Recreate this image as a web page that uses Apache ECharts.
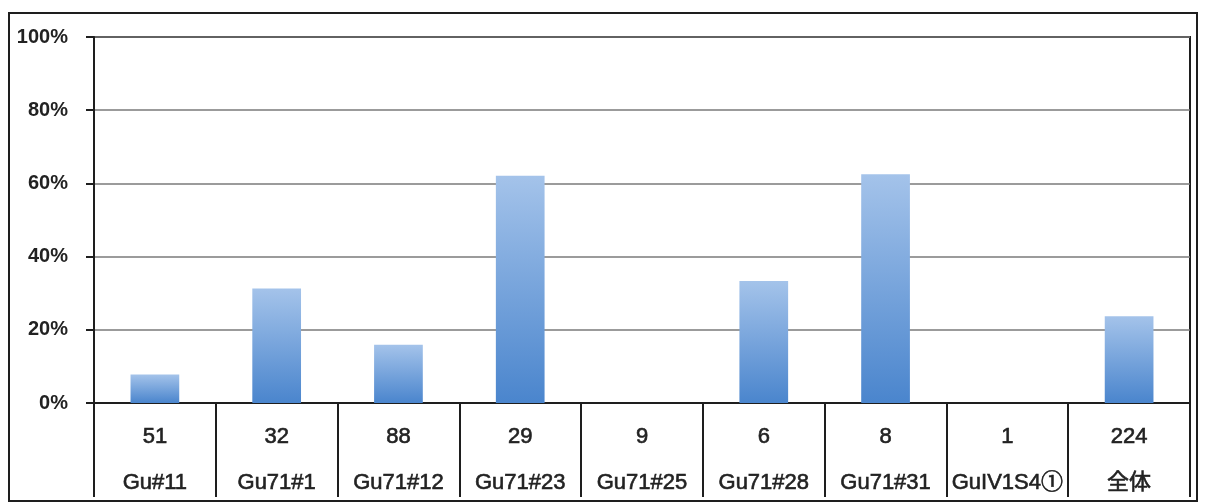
<!DOCTYPE html>
<html>
<head>
<meta charset="utf-8">
<script src="https://cdn.jsdelivr.net/npm/echarts@6/dist/echarts.min.js"></script>
<style>
  html, body { margin: 0; padding: 0; background: #fff; }
  #chart { width: 1205px; height: 504px; }
</style>
</head>
<body>
<div id="chart"></div>
<script>
// Group names, sample counts per group, and share (%) per group
const categories = ['Gu#11', 'Gu71#1', 'Gu71#12', 'Gu71#23', 'Gu71#25', 'Gu71#28', 'Gu71#31', 'GuIV1S4①', '全体'];
const counts = [51, 32, 88, 29, 9, 6, 8, 1, 224];
const shares = [7.8, 31.3, 15.9, 62.1, 0, 33.3, 62.5, 0, 23.7];
const yTicks = [0, 20, 40, 60, 80, 100];

const FONT = '"Liberation Sans", Arial, "Noto Sans CJK JP", sans-serif';
const INK = '#222';

const chart = echarts.init(document.getElementById('chart'), null, { renderer: 'canvas' });

// table cell text: regular weight, slightly thickened
const cellText = {
  fontFamily: FONT, fontSize: 22, fontWeight: 'normal', color: INK,
  textBorderColor: INK, textBorderWidth: 0.6,
  lineHeight: 46, align: 'center'
};

chart.setOption({
  animation: false,
  backgroundColor: '#fff',
  grid: {
    left: 94, right: 15, top: 37, bottom: 101,
    show: true,
    borderColor: '#1e1e1e',
    borderWidth: 2
  },
  xAxis: {
    type: 'category',
    data: categories,
    axisLine: { lineStyle: { color: '#1e1e1e', width: 2 } },
    axisTick: {
      show: true,
      alignWithLabel: false,
      length: 94,
      lineStyle: { color: '#1e1e1e', width: 2 }
    },
    axisLabel: {
      interval: 0,
      margin: 11,
      formatter: function (name, idx) {
        return '{n|' + counts[idx] + '}\n{c|' + name + '}';
      },
      rich: {
        n: cellText,
        c: cellText
      }
    }
  },
  yAxis: {
    type: 'value',
    min: yTicks[0],
    max: yTicks[yTicks.length - 1],
    interval: 20,
    axisLine: { show: true, lineStyle: { color: '#1e1e1e', width: 2 } },
    axisTick: { show: true, inside: false, length: 8, lineStyle: { color: '#1e1e1e', width: 2 } },
    axisLabel: {
      margin: 26,
      padding: [6, 0, 0, 0],
      formatter: '{value}%',
      fontFamily: FONT,
      fontSize: 20,
      fontWeight: 'bold',
      color: INK
    },
    splitLine: { show: true, lineStyle: { color: '#7a7a7a', width: 1.6 } }
  },
  series: [{
    type: 'bar',
    data: shares,
    barWidth: '40%',
    itemStyle: {
      color: new echarts.graphic.LinearGradient(0, 0, 0, 1, [
        { offset: 0, color: '#a4c3ea' },
        { offset: 1, color: '#4a85cd' }
      ])
    }
  }],
  graphic: [{
    type: 'rect',
    shape: { x: 9, y: 13, width: 1188, height: 488 },
    style: { fill: 'none', stroke: '#1e1e1e', lineWidth: 2 },
    silent: true
  }]
});
</script>
</body>
</html>
